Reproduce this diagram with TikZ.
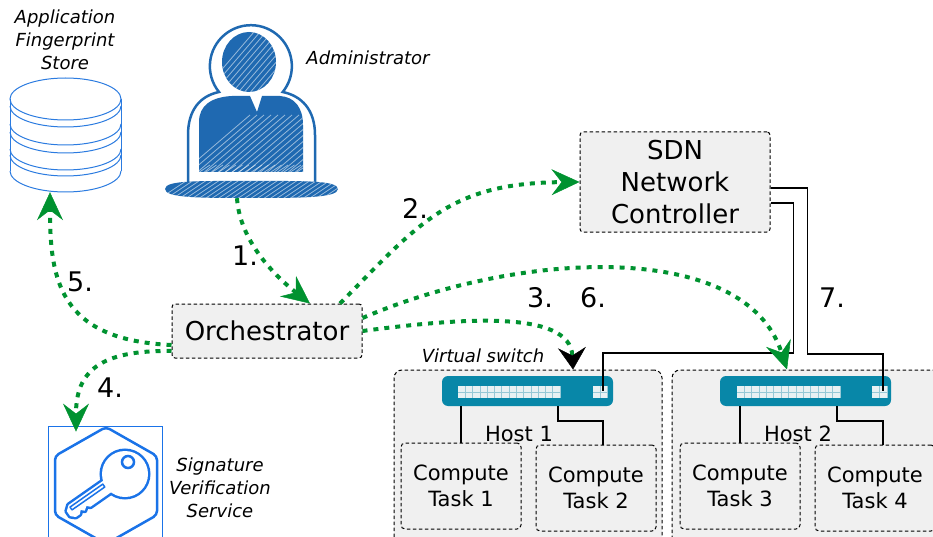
\documentclass[tikz,border=0pt]{standalone}
\usepackage{fontspec}
\setmainfont{DejaVu Sans}
\usetikzlibrary{arrows.meta,calc}

\definecolor{flowgreen}{RGB}{0,146,48}
\definecolor{boxgray}{RGB}{240,240,240}
\definecolor{switchteal}{RGB}{8,135,168}
\definecolor{portfill}{RGB}{232,241,243}
\definecolor{portline}{RGB}{150,200,214}
\definecolor{adminblue}{RGB}{31,105,177}
\definecolor{dbblue}{RGB}{43,123,224}
\definecolor{keyblue}{RGB}{26,115,232}

% port block of a switch: left x, top y, width, columns, rows
\newcommand\drawports[5]{%
  \fill[portfill] (#1,#2) rectangle ++(#3,12);
  \foreach \c in {1,...,#4} {
    \draw[portline, line width=0.6pt] ({#1+\c*#3/#4},#2) -- ++(0,12);
  }
  \draw[portline, line width=0.6pt] (#1,#2+6) -- ++(#3,0);
}

\tikzset{
  bigfont/.style={font=\fontsize{26}{32}\selectfont},
  taskfont/.style={font=\fontsize{21}{26}\selectfont},
  numfont/.style={font=\fontsize{27}{30}\selectfont},
  notefont/.style={font=\fontsize{18}{23}\selectfont\itshape},
  box/.style={draw=black, dash pattern=on 3.5pt off 2.5pt, line width=1pt,
    fill=boxgray, rounded corners=3pt, inner sep=0pt, align=center},
  hostbox/.style={box, rounded corners=8pt},
  taskbox/.style={box, rounded corners=4pt, taskfont},
  switchbox/.style={fill=switchteal, rounded corners=6pt, inner sep=0pt},
  wire/.style={draw=black, line width=1.5pt},
  flow/.style={draw=flowgreen, line width=4pt, dash pattern=on 5pt off 6pt,
    -{Stealth[length=28pt, width=26pt, inset=10pt, line width=0.5pt, fill=flowgreen]}},
  flowdark/.style={draw=flowgreen, line width=4pt, dash pattern=on 5pt off 6pt,
    -{Stealth[length=22pt, width=28pt, inset=8pt, line width=0.5pt, color=black, fill=black]}},
  ghost/.style={inner sep=0pt},
  hatch/.style={white, line width=0.8pt, opacity=0.55},
}

\begin{document}
\begin{tikzpicture}[x=1pt, y=-1pt]
\useasboundingbox (0,0) rectangle (933,537);
\clip (0,0) rectangle (933,537);

% ---------- hosts ----------
\node[hostbox, minimum width=268, minimum height=190] (host1) at (528,465) {};
\node[hostbox, minimum width=278, minimum height=190] (host2) at (811,465) {};

\node[taskbox, minimum width=120, minimum height=86] (t1) at (461,486) {Compute\\Task 1};
\node[taskbox, minimum width=120, minimum height=86] (t2) at (596,488) {Compute\\Task 2};
\node[taskbox, minimum width=120, minimum height=86] (t3) at (740,486) {Compute\\Task 3};
\node[taskbox, minimum width=120, minimum height=86] (t4) at (875,488) {Compute\\Task 4};

\node[taskfont] (h1label) at (519,434) {Host 1};
\node[taskfont] (h2label) at (798,434) {Host 2};

% ---------- virtual switches ----------
\node[switchbox, minimum width=171, minimum height=30] (sw1) at (527.5,391) {};
\node[switchbox, minimum width=171, minimum height=30] (sw2) at (805.5,391) {};
\drawports{458}{386}{102}{14}{2}
\drawports{593}{386}{14}{2}{2}
\drawports{737}{386}{103}{14}{2}
\drawports{872}{386}{15}{2}{2}

% switch ports to compute tasks
\draw[wire] (sw1.south -| t1.north) -- (t1.north);
\draw[wire] ([xshift=30.5pt]sw1.south) -- ++(0,15) -| ([xshift=7pt]t2.north);
\draw[wire] (sw2.south -| t3.north) -- (t3.north);
\draw[wire] ([xshift=31.5pt]sw2.south) -- ++(0,15) -| ([xshift=8pt]t4.north);

% ---------- SDN controller ----------
\node[box, bigfont, minimum width=190, minimum height=100] (sdn) at (675,182)
  {SDN\\Network\\Controller};
\draw[wire] ([yshift=-6pt]sdn.east) -- ++(37,0) -- ++(0,166) -| ([xshift=77.5pt]sw2.center);
\draw[wire] ([yshift=-21pt]sdn.east) -- ++(23,0) -- ++(0,150) -| ([xshift=75.5pt]sw1.center);

% ---------- orchestrator ----------
\node[box, bigfont, minimum width=190, minimum height=54] (orch) at (267,331) {Orchestrator};

% ---------- application fingerprint store ----------
\node[ghost, minimum width=111, minimum height=114] (db) at (65.5,135) {};
\begin{scope}[draw=dbblue, line width=1pt]
  \fill[white] (10,99) -- (10,171) arc[start angle=180, end angle=0, x radius=55.5, y radius=21]
    -- (121,99) arc[start angle=0, end angle=-180, x radius=55.5, y radius=21] -- cycle;
  \draw (10,99) -- (10,171);
  \draw (121,99) -- (121,171);
  \draw (65.5,99) ellipse [x radius=55.5, y radius=21];
  \foreach \yc in {106,124,132,149,155,171}
    \draw (10,\yc) arc[start angle=180, end angle=0, x radius=55.5, y radius=21];
\end{scope}
\node[notefont, align=center] (dblabel) at (65,40) {Application\\Fingerprint\\Store};

% ---------- administrator ----------
\node[ghost, minimum width=172, minimum height=180] (admin) at (251,108) {};
\draw[adminblue, line width=2.5pt, fill=white]
  (188,183) -- (188,135) .. controls (188,110) and (200,96) .. (219,92)
  arc[start angle=141, end angle=399, radius=41]
  .. controls (302,96) and (315,110) .. (315,135) -- (315,183);
\begin{scope}
  \clip (249,62) ellipse [x radius=27, y radius=30]
    (199,172) -- (199,122) .. controls (199,105) and (212,97) .. (232,96)
    -- (250,96) -- (257,112) -- (262,96) -- (280,96)
    .. controls (295,97) and (303,108) .. (303,125) -- (303,172) -- cycle
    (165,189) .. controls (165,180) and (200,181) .. (251,181)
    .. controls (300,181) and (338,180) .. (338,189)
    .. controls (338,198) and (300,198) .. (251,198)
    .. controls (200,198) and (165,198) .. (165,189) -- cycle;
  \fill[adminblue] (160,20) rectangle (340,200);
  \foreach \k in {0,...,40}
    \draw[hatch] (150+\k*6.5,205) -- ++(60,-40);
  \foreach \k in {0,...,22}
    \draw[hatch] (180+\k*7,175) -- ++(70,-60);
  \foreach \k in {0,...,14}
    \draw[hatch] (200+\k*6,95) -- ++(60,-70);
\end{scope}
\node[notefont] (adminlabel) at (368,58) {Administrator};

% ---------- signature verification service ----------
\node[draw=keyblue, line width=0.8pt, minimum width=114, minimum height=114, inner sep=0pt]
  (key) at (105,483) {};
\draw[keyblue, line width=2.5pt, rounded corners=4pt]
  (106,427) -- (157,456) -- (157,515) -- (106,544) -- (55,515) -- (55,456) -- cycle;
% key: bow at (125,474), blade running down-left
\def\keyblade{(111.2,475.2) -- (68.6,505.0) -- (66.8,511.2) -- (70.2,516.1) -- (75.8,517.0)
  -- (79.9,514.2) -- (80.6,510.0) -- (84.8,510.7) -- (86.4,506.0) -- (90.5,506.7)
  -- (119.2,486.6) -- cycle}
\draw[keyblue, line width=5pt, line join=round] \keyblade;
\draw[keyblue, line width=5pt] (125,474) circle [radius=23];
\fill[white] \keyblade;
\fill[white] (125,474) circle [radius=23];
\draw[keyblue, line width=1.5pt, line join=round]
  (104.8,487.0) -- (72.0,509.9) -- (70.0,507.1) -- (102.8,484.1) -- cycle;
\draw[keyblue, line width=2.5pt] (128,462) circle [radius=6];
\node[notefont, align=center] (keylabel) at (220,488) {Signature\\Verification\\Service};

% ---------- flows ----------
\draw[flow] ([xshift=-14pt]admin.south) .. controls +(3,47) and +(-28,-22) .. ([xshift=43pt]orch.north);
\draw[flow] ([xshift=73pt]orch.north) .. controls +(80,-81) and +(-130,1) .. (sdn.west);
\draw[flowdark] (orch.east) .. controls +(98,-13) and +(-3,-60) .. ([xshift=45pt]host1.north);
\draw[flow] ([yshift=13pt]orch.east) .. controls +(158,-68) and +(-42,-130) .. ([xshift=-24pt]host2.north);
\draw[flow] ([yshift=-14pt]orch.west) .. controls +(-112,-5) and +(0,88) .. ([xshift=-15.5pt]db.south);
\draw[flow] ([yshift=-20pt]orch.west) .. controls +(-72,-1) and +(0,-60) .. ([xshift=-29pt,yshift=-6pt]key.north);

\node[notefont] (vslabel) at (483,356) {Virtual switch};

% ---------- step numbers ----------
\node[numfont] (n1) at (245,256) {1.};
\node[numfont] (n2) at (415,208) {2.};
\node[numfont] (n3) at (540,298) {3.};
\node[numfont] (n4) at (110,388) {4.};
\node[numfont] (n5) at (80,282) {5.};
\node[numfont] (n6) at (593,298) {6.};
\node[numfont] (n7) at (832,298) {7.};
\end{tikzpicture}
\end{document}
